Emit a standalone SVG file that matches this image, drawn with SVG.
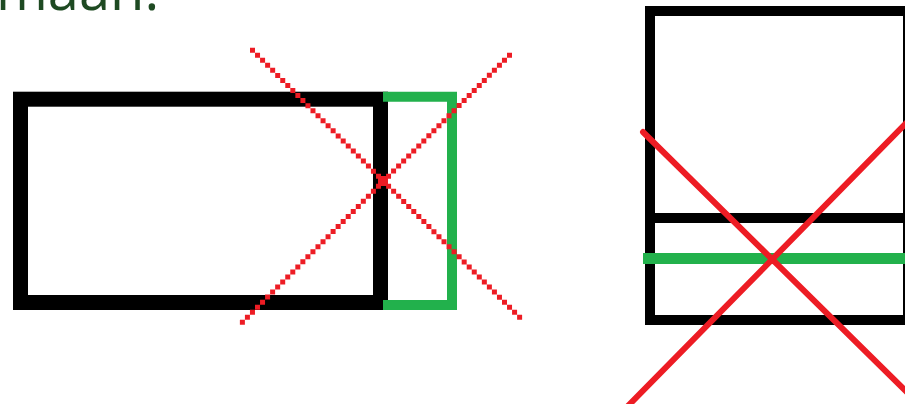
<svg xmlns="http://www.w3.org/2000/svg" width="905" height="404" viewBox="0 0 905 404">
<style>
.blk{fill:none;stroke:#000;stroke-width:15}
.blk2{fill:none;stroke:#000;stroke-width:10}
.grn{fill:none;stroke:#22B14C;stroke-width:10}
.red{fill:#ED1C24}
.redl{stroke:#ED1C24;stroke-width:6;stroke-linecap:round;fill:none}
.lbl{font-family:"Open Sans","Liberation Sans",sans-serif;font-size:56px;fill:#1e4a22}
</style>
<rect width="905" height="404" fill="#fff"/>
<g id="title"><text class="lbl" x="-4" y="10">maan.</text></g>
<g id="left-figure">
<rect class="blk" x="20.5" y="99.2" width="360" height="203.3"/>
<path class="grn" d="M383 96.7H452V305H383"/>
</g>
<g id="right-figure">
<rect class="blk2" x="650" y="11" width="258" height="309"/>
<line class="blk2" x1="650" y1="218" x2="910" y2="218"/>
<line stroke="#22B14C" stroke-width="11" x1="643" y1="258.5" x2="910" y2="258.5"/>
</g>
<g id="connectors">
<path class="red" d="M250 47.7h5v5h-5zm5.04 5.04h5v5h-5zm5.04 5.04h5v5h-5zm5.04 5.04h5v5h-5zm5.04 5.04h5v5h-5zm5.04 5.04h5v5h-5zm5.04 5.04h5v5h-5zm5.04 5.04h5v5h-5zm5.04 5.04h5v5h-5zm5.04 5.04h5v5h-5zm5.04 5.04h5v5h-5zm5.04 5.04h5v5h-5zm5.04 5.04h5v5h-5zm5.04 5.04h5v5h-5zm5.04 5.04h5v5h-5zm5.04 5.04h5v5h-5zm5.04 5.04h5v5h-5zm5.04 5.04h5v5h-5zm5.04 5.04h5v5h-5zm5.04 5.04h5v5h-5zm5.04 5.04h5v5h-5zm5.04 5.04h5v5h-5zm5.04 5.04h5v5h-5zm5.04 5.04h5v5h-5zm5.04 5.04h5v5h-5zm5.04 5.04h5v5h-5zm5.04 5.04h5v5h-5zm5.04 5.04h5v5h-5zm5.04 5.04h5v5h-5zm5.04 5.04h5v5h-5zm5.04 5.04h5v5h-5zm5.04 5.04h5v5h-5zm5.04 5.04h5v5h-5zm5.04 5.04h5v5h-5zm5.04 5.04h5v5h-5zm5.04 5.04h5v5h-5zm5.04 5.04h5v5h-5zm5.04 5.04h5v5h-5zm5.04 5.04h5v5h-5zm5.04 5.04h5v5h-5zm5.04 5.04h5v5h-5zm5.04 5.04h5v5h-5zm5.04 5.04h5v5h-5zm5.04 5.04h5v5h-5zm5.04 5.04h5v5h-5zm5.04 5.04h5v5h-5zm5.04 5.04h5v5h-5zm5.04 5.04h5v5h-5zm5.04 5.04h5v5h-5zm5.04 5.04h5v5h-5zm5.04 5.04h5v5h-5zm5.04 5.04h5v5h-5zm5.04 5.04h5v5h-5zm5.04 5.04h5v5h-5z"/>
<path class="red" d="M507 52.7h5v5h-5zm-5.04 5.04h5v5h-5zm-5.04 5.04h5v5h-5zm-5.04 5.04h5v5h-5zm-5.04 5.04h5v5h-5zm-5.04 5.04h5v5h-5zm-5.04 5.04h5v5h-5zm-5.04 5.04h5v5h-5zm-5.04 5.04h5v5h-5zm-5.04 5.04h5v5h-5zm-5.04 5.04h5v5h-5zm-5.04 5.04h5v5h-5zm-5.04 5.04h5v5h-5zm-5.04 5.04h5v5h-5zm-5.04 5.04h5v5h-5zm-5.04 5.04h5v5h-5zm-5.04 5.04h5v5h-5zm-5.04 5.04h5v5h-5zm-5.04 5.04h5v5h-5zm-5.04 5.04h5v5h-5zm-5.04 5.04h5v5h-5zm-5.04 5.04h5v5h-5zm-5.04 5.04h5v5h-5zm-5.04 5.04h5v5h-5zm-5.04 5.04h5v5h-5zm-5.04 5.04h5v5h-5zm-5.04 5.04h5v5h-5zm-5.04 5.04h5v5h-5zm-5.04 5.04h5v5h-5zm-5.04 5.04h5v5h-5zm-5.04 5.04h5v5h-5zm-5.04 5.04h5v5h-5zm-5.04 5.04h5v5h-5zm-5.04 5.04h5v5h-5zm-5.04 5.04h5v5h-5zm-5.04 5.04h5v5h-5zm-5.04 5.04h5v5h-5zm-5.04 5.04h5v5h-5zm-5.04 5.04h5v5h-5zm-5.04 5.04h5v5h-5zm-5.04 5.04h5v5h-5zm-5.04 5.04h5v5h-5zm-5.04 5.04h5v5h-5zm-5.04 5.04h5v5h-5zm-5.04 5.04h5v5h-5zm-5.04 5.04h5v5h-5zm-5.04 5.04h5v5h-5zm-5.04 5.04h5v5h-5zm-5.04 5.04h5v5h-5zm-5.04 5.04h5v5h-5zm-5.04 5.04h5v5h-5zm-5.04 5.04h5v5h-5zm-5.04 5.04h5v5h-5zm-5.04 5.04h5v5h-5z"/>
<rect class="red" x="378" y="176" width="10" height="10"/>
<line class="redl" x1="643" y1="132" x2="925" y2="410"/>
<line class="redl" x1="622" y1="412" x2="925" y2="104"/>
</g>
</svg>
